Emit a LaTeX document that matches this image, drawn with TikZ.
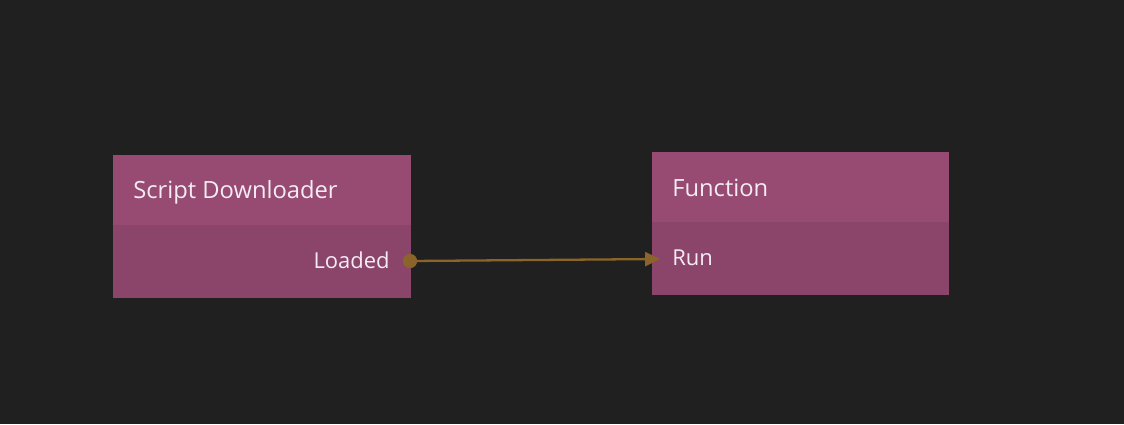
\documentclass[tikz,border=0pt]{standalone}
\usepackage{fontspec}
\setmainfont{Open Sans}
\usepackage{tikz}
\usetikzlibrary{positioning,arrows.meta}
\definecolor{canvas}{RGB}{32,32,32}
\definecolor{headpink}{RGB}{151,75,115}
\definecolor{bodypink}{RGB}{139,69,107}
\definecolor{wire}{RGB}{138,100,40}
\definecolor{labelwhite}{RGB}{245,235,242}
\tikzset{
  headbox/.style={fill=headpink, anchor=north west, inner sep=0pt,
                  minimum height=1.42cm},
  bodybox/.style={fill=bodypink, anchor=north west, inner sep=0pt,
                  minimum height=1.46cm},
  title/.style={anchor=base west, inner sep=0pt, text=labelwhite,
                font=\fontsize{13.5}{16}\selectfont},
  port/.style={inner sep=0pt, text=labelwhite,
               font=\fontsize{12.5}{16}\selectfont},
  outdot/.style={circle, fill=wire, inner sep=0pt, minimum size=0.28cm},
  wirearrow/.style={-{Triangle[length=8.5pt,width=8pt]}, line width=1.3pt, draw=wire},
}
\begin{document}
\begin{tikzpicture}
  \fill[canvas] (0,0) rectangle (22.48,-8.48);
  \useasboundingbox (0,0) rectangle (22.48,-8.48);

  % Script Downloader
  \node[headbox, minimum width=5.96cm] (SDhead) at (2.26,-3.10) {};
  \node[bodybox, minimum width=5.96cm] (SDbody) at ([yshift=0.04cm]SDhead.south west) {};
  \node[title] (SDtitle) at (2.66,-3.96) {Script Downloader};
  \node[port, anchor=base east] (loaded) at (7.80,-5.36) {Loaded};
  \node[outdot] (loadeddot) at (8.20,-5.22) {};

  % Function
  \node[headbox, minimum width=5.94cm] (FNhead) at (13.04,-3.04) {};
  \node[bodybox, minimum width=5.94cm] (FNbody) at ([yshift=0.04cm]FNhead.south west) {};
  \node[title] (FNtitle) at (13.44,-3.92) {Function};
  \node[port, anchor=base west] (run) at (13.44,-5.30) {Run};
  \coordinate (runport) at (13.20,-5.18);

  \draw[wirearrow] (loadeddot.center) -- (runport);
  \node[outdot] at (loadeddot) {};
\end{tikzpicture}
\end{document}
